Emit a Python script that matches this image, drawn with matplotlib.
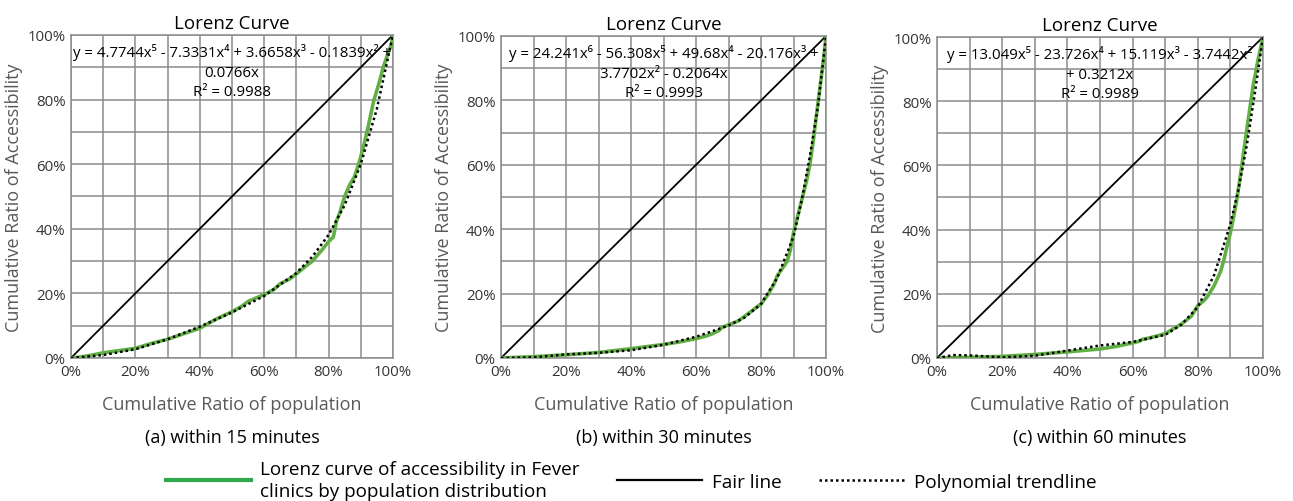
import numpy as np
import matplotlib
matplotlib.use("Agg")
import matplotlib.pyplot as plt
from matplotlib.ticker import MultipleLocator, FuncFormatter
from matplotlib.lines import Line2D

plt.rcParams['font.family'] = ['Open Sans', 'DejaVu Sans']

# ---- data (percent) ----
# (a) within 15 minutes
a_x = [0, 3, 6, 10, 15, 20, 25, 30, 35, 40, 45, 50, 53, 55, 58, 60, 63, 65, 68, 70,
       73, 75, 78, 80, 81.5, 82.5, 83.5, 85, 86.5, 88, 89.5, 91, 92.5, 94, 95.5, 97,
       98.5, 99.5, 100]
a_y = [0, 0.3, 0.8, 1.6, 2.3, 3.0, 4.5, 5.8, 7.5, 9.2, 12.0, 14.3, 16.0, 17.5, 18.8,
       19.6, 21.2, 23.0, 24.5, 26.0, 28.5, 30.0, 33.5, 36.0, 37.5, 42.5, 45.0, 50.0,
       53.5, 56.0, 60.5, 66.0, 72.5, 79.5, 84.5, 90.0, 94.5, 97.0, 100]
a_trend_x = [0, 10, 20, 30, 40, 50, 60, 70, 75, 80, 85, 90, 95, 100]
a_trend_y = [0, 0.9, 2.7, 5.8, 9.7, 14.1, 19.2, 26.3, 31.4, 38.1, 47.3, 60.0, 77.1, 100]

# (b) within 30 minutes
b_x = [0, 5, 10, 20, 30, 40, 50, 55, 60, 63, 65, 67, 68, 70, 73, 75, 77, 80, 82, 84,
       85, 86, 88, 89, 90, 91, 92.5, 94, 95, 96, 97.6, 99, 100]
b_y = [0, 0.2, 0.4, 1.0, 1.7, 2.9, 4.2, 5.0, 6.0, 6.8, 7.5, 8.5, 9.5, 10.3, 11.5, 13.0,
       14.5, 16.8, 19.5, 23.0, 25.6, 27.0, 30.0, 33.5, 39.0, 43.0, 49.0, 55.0, 60.0,
       67.0, 80.0, 91.0, 100]
b_trend_x = [0, 10, 20, 30, 40, 50, 60, 65, 70, 75, 80, 85, 90, 92.5, 95, 97.5, 100]
b_trend_y = [0, 0.2, 1.1, 1.6, 2.4, 4.1, 6.6, 8.3, 10.1, 12.6, 16.8, 24.9, 37.8, 49.0,
             62.6, 78.3, 100]

# (c) within 60 minutes
c_x = [0, 5, 10, 20, 30, 40, 50, 55, 60, 62, 63, 65, 68, 70, 72, 75, 78, 80, 82, 83,
       85, 87, 88, 89, 90, 91, 92, 93.5, 95, 97, 98.5, 100]
c_y = [0, 0.1, 0.2, 0.5, 1.1, 1.9, 2.8, 3.6, 4.7, 5.2, 5.8, 6.2, 7.0, 7.6, 8.8, 10.6,
       13.0, 16.3, 18.0, 19.2, 22.5, 27.0, 30.5, 35.0, 39.0, 44.0, 49.5, 60.0, 71.0,
       85.0, 93.0, 100]
c_trend_x = [0, 5, 10, 20, 30, 40, 50, 60, 70, 75, 80, 85, 90, 92.5, 95, 97.5, 100]
c_trend_y = [0, 0.9, 0.8, 0.2, 0.7, 2.3, 3.9, 5.0, 7.2, 10.4, 15.9, 25.8, 41.7, 52.7,
             66.1, 82.5, 100]

fair_x = [0, 100]
fair_y = [0, 100]

equations = [
    "y = 4.7744x⁵ - 7.3331x⁴ + 3.6658x³ - 0.1839x² +\n0.0766x\nR² = 0.9988",
    "y = 24.241x⁶ - 56.308x⁵ + 49.68x⁴ - 20.176x³ +\n3.7702x² - 0.2064x\nR² = 0.9993",
    "y = 13.049x⁵ - 23.726x⁴ + 15.119x³ - 3.7442x²\n+ 0.3212x\nR² = 0.9989",
]
captions = ["(a) within 15 minutes", "(b) within 30 minutes", "(c) within 60 minutes"]
curves = [(a_x, a_y, a_trend_x, a_trend_y),
          (b_x, b_y, b_trend_x, b_trend_y),
          (c_x, c_y, c_trend_x, c_trend_y)]

GREEN = '#62b045'
GRID = '#8c8c8c'
LABEL = '#595959'

fig = plt.figure(figsize=(12.93, 5.02), dpi=100)

# axes boxes in figure fractions
boxes = [
    [0.0549, 0.2849, 0.2490, 0.6434],
    [0.3875, 0.2849, 0.2514, 0.6414],
    [0.7247, 0.2849, 0.2521, 0.6394],
]

for i, (box, (x, y, tx, ty)) in enumerate(zip(boxes, curves)):
    ax = fig.add_axes(box)
    ax.set_xlim(0, 100)
    ax.set_ylim(0, 100)
    ax.xaxis.set_major_locator(MultipleLocator(20))
    ax.yaxis.set_major_locator(MultipleLocator(20))
    ax.xaxis.set_minor_locator(MultipleLocator(10))
    ax.yaxis.set_minor_locator(MultipleLocator(10))
    pct = FuncFormatter(lambda v, p: f"{v:.0f}%")
    ax.xaxis.set_major_formatter(pct)
    ax.yaxis.set_major_formatter(pct)
    ax.grid(True, which='both', color=GRID, linewidth=1.1)
    ax.set_axisbelow(True)
    for s in ax.spines.values():
        s.set_color(GRID)
        s.set_linewidth(1.1)
    ax.tick_params(which='both', length=0, labelsize=10.8, colors='#333333', pad=4)

    ax.plot(fair_x, fair_y, color='black', linewidth=1.3, zorder=3)
    ax.plot(x, y, color=GREEN, linewidth=2.6, zorder=4)
    ax.plot(tx, ty, color='black', linewidth=1.8, linestyle=(0, (1, 1.2)), zorder=5)

    ax.set_title("Lorenz Curve", fontsize=13.5, pad=5)
    ax.set_xlabel("Cumulative Ratio of population", fontsize=13, color=LABEL, labelpad=12)
    ax.set_ylabel("Cumulative Ratio of Accessibility", fontsize=13, color=LABEL, labelpad=3)
    ax.text(0.5, 0.975, equations[i], transform=ax.transAxes, ha='center', va='top',
            fontsize=10.8, linespacing=1.42, zorder=6)
    ax.text(0.5, -0.245, captions[i], transform=ax.transAxes, ha='center', va='center',
            fontsize=13)

handles = [
    Line2D([], [], color='#2ea84a', linewidth=3),
    Line2D([], [], color='black', linewidth=1.6),
    Line2D([], [], color='black', linewidth=1.8, linestyle=(0, (1, 1.2))),
]
labels = ["Lorenz curve of accessibility in Fever\nclinics by population distribution",
          "Fair line", "Polynomial trendline"]
leg = fig.legend(handles, labels, loc='center', bbox_to_anchor=(0.488, 0.042), ncol=3,
                 frameon=False, fontsize=13.6, handlelength=4.5, handletextpad=0.5,
                 columnspacing=2.0, labelspacing=0.2)
plt.setp(leg.get_texts(), linespacing=1.25)

fig.savefig("out.png", dpi=100)
